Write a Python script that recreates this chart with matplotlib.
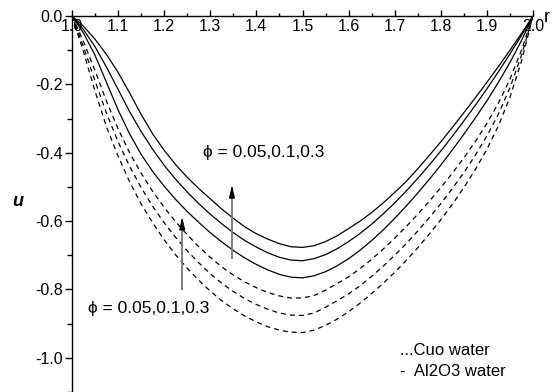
import matplotlib
matplotlib.use("Agg")
import matplotlib.pyplot as plt
from matplotlib.ticker import MultipleLocator

plt.rcParams['font.family'] = ['Liberation Sans', 'DejaVu Sans']

r = [1.000, 1.025, 1.050, 1.075, 1.100, 1.125, 1.150, 1.175, 1.200, 1.225,
     1.250, 1.275, 1.300, 1.325, 1.350, 1.375, 1.400, 1.425, 1.450, 1.475,
     1.500, 1.525, 1.550, 1.575, 1.600, 1.625, 1.650, 1.675, 1.700, 1.725,
     1.750, 1.775, 1.800, 1.825, 1.850, 1.875, 1.900, 1.925, 1.950, 1.975, 2.000]

# Al2O3 water (solid lines), phi = 0.05, 0.1, 0.3
al_1 = [0, -0.030, -0.068, -0.113, -0.165, -0.225, -0.288, -0.345, -0.393, -0.435,
        -0.472, -0.505, -0.535, -0.565, -0.592, -0.617, -0.637, -0.653, -0.666, -0.675,
        -0.677, -0.672, -0.660, -0.643, -0.622, -0.600, -0.575, -0.547, -0.516, -0.484,
        -0.447, -0.408, -0.368, -0.326, -0.283, -0.239, -0.194, -0.148, -0.100, -0.051, 0]
al_2 = [0, -0.040, -0.090, -0.150, -0.215, -0.280, -0.338, -0.390, -0.437, -0.478,
        -0.515, -0.549, -0.580, -0.608, -0.634, -0.657, -0.676, -0.693, -0.706, -0.714,
        -0.716, -0.710, -0.698, -0.681, -0.660, -0.636, -0.609, -0.579, -0.547, -0.512,
        -0.475, -0.436, -0.395, -0.352, -0.307, -0.261, -0.213, -0.163, -0.111, -0.057, 0]
al_3 = [0, -0.050, -0.115, -0.195, -0.275, -0.345, -0.405, -0.455, -0.498, -0.537,
        -0.572, -0.604, -0.634, -0.661, -0.686, -0.708, -0.727, -0.743, -0.756, -0.764,
        -0.766, -0.760, -0.748, -0.731, -0.710, -0.685, -0.657, -0.626, -0.592, -0.556,
        -0.518, -0.478, -0.436, -0.392, -0.346, -0.298, -0.248, -0.194, -0.136, -0.072, 0]
# Cuo water (dashed lines), phi = 0.05, 0.1, 0.3
cu_1 = [0, -0.075, -0.160, -0.250, -0.330, -0.400, -0.460, -0.513, -0.560, -0.602,
        -0.640, -0.675, -0.706, -0.734, -0.758, -0.778, -0.795, -0.809, -0.819, -0.825,
        -0.825, -0.818, -0.802, -0.783, -0.763, -0.739, -0.712, -0.682, -0.650, -0.616,
        -0.580, -0.542, -0.502, -0.460, -0.415, -0.367, -0.314, -0.255, -0.185, -0.100, 0]
cu_2 = [0, -0.090, -0.190, -0.285, -0.368, -0.440, -0.502, -0.557, -0.605, -0.648,
        -0.687, -0.722, -0.754, -0.782, -0.806, -0.827, -0.844, -0.858, -0.869, -0.875,
        -0.876, -0.869, -0.852, -0.833, -0.813, -0.789, -0.762, -0.732, -0.700, -0.666,
        -0.629, -0.590, -0.549, -0.505, -0.458, -0.407, -0.351, -0.287, -0.210, -0.115, 0]
cu_3 = [0, -0.105, -0.220, -0.325, -0.410, -0.485, -0.550, -0.605, -0.655, -0.699,
        -0.738, -0.773, -0.805, -0.833, -0.857, -0.878, -0.895, -0.909, -0.919, -0.925,
        -0.926, -0.919, -0.905, -0.887, -0.865, -0.840, -0.812, -0.782, -0.750, -0.715,
        -0.678, -0.638, -0.596, -0.551, -0.502, -0.449, -0.390, -0.321, -0.238, -0.132, 0]

phi_label = "ϕ = 0.05,0.1,0.3"
legend_lines = ["...Cuo water", "-  Al2O3 water"]

fig = plt.figure(figsize=(5.54, 3.92), dpi=100)
ax = fig.add_axes([72/554, 0, 461/554, 376/392])

for s in (al_1, al_2, al_3):
    ax.plot(r, s, color='black', lw=0.9)
for s in (cu_1, cu_2, cu_3):
    ax.plot(r, s, color='black', lw=0.9, dashes=(4, 3.2))

ax.set_xlim(1.0, 2.0)
ax.set_ylim(-1.1, 0.0)
ax.spines['top'].set_visible(False)
ax.spines['right'].set_visible(False)
ax.spines['bottom'].set_position(('data', 0))
for sp in ax.spines.values():
    sp.set_linewidth(1.0)

ax.xaxis.set_major_locator(MultipleLocator(0.1))
ax.xaxis.set_minor_locator(MultipleLocator(0.05))
ax.yaxis.set_major_locator(MultipleLocator(0.2))
ax.yaxis.set_minor_locator(MultipleLocator(0.1))
ax.xaxis.set_major_formatter(plt.FuncFormatter(lambda v, p: f"{v:.1f}"))
ax.yaxis.set_major_formatter(plt.FuncFormatter(lambda v, p: f"{v:.1f}".replace("-0.0", "0.0")))

ax.tick_params(axis='x', which='major', direction='in', length=4.5, width=1, pad=2.5, labelsize=11.5)
ax.tick_params(axis='x', which='minor', direction='in', length=2.5, width=1)
ax.tick_params(axis='y', which='major', direction='out', length=5, width=1, pad=1.5, labelsize=11.5)
ax.tick_params(axis='y', which='minor', direction='out', length=3.5, width=1)

# arrows: gray shaft, black slim head
for xa, y0, y1 in [(1.347, -0.711, -0.495), (1.239, -0.801, -0.588)]:
    ax.plot([xa, xa], [y0, y1 - 0.02], color='#777777', lw=1.3, solid_capstyle='butt')
    ax.annotate("", xy=(xa, y1), xytext=(xa, y1 - 0.035),
                arrowprops=dict(arrowstyle='-|>,head_length=0.38,head_width=0.09',
                                color='black', lw=0.8, mutation_scale=20,
                                shrinkA=0, shrinkB=0))

ax.text(1.284, -0.400, phi_label, fontsize=12.5, va='center', ha='left')
ax.text(1.034, -0.857, phi_label, fontsize=12.5, va='center', ha='left')

ax.text(1.711, -0.978, legend_lines[0], fontsize=12, va='center', ha='left')
ax.text(1.711, -1.041, legend_lines[1], fontsize=12, va='center', ha='left')

fig.text(547/554, 1 - 17/392, "r", fontsize=13, ha='center', va='center')
fig.text(18/554, 1 - 202/392, "u", fontsize=13, ha='center', va='center',
         fontweight='bold', fontstyle='italic')

fig.savefig("out.png", dpi=100)
